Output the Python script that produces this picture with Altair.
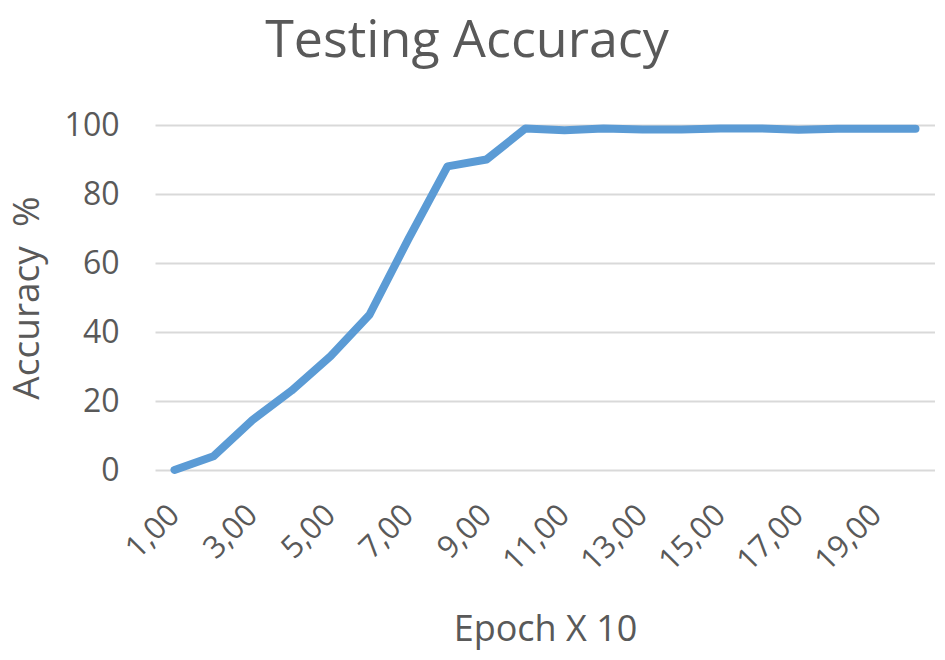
import altair as alt
import pandas as pd

epochs = list(range(1, 21))
accuracy = [0, 4, 14.5, 23, 33, 45, 67, 88, 90, 99, 98.5, 99, 98.7, 98.7, 99, 99, 98.6, 98.9, 98.9, 98.9]
x_tick_values = [1, 3, 5, 7, 9, 11, 13, 15, 17, 19]
y_tick_values = [0, 20, 40, 60, 80, 100]

df = pd.DataFrame({"epoch": epochs, "accuracy": accuracy})

FONT = "Open Sans"
TXT = "#595959"

chart = alt.Chart(df).mark_line(
    color="#5B9BD5", strokeWidth=8, strokeCap="round", strokeJoin="round"
).encode(
    x=alt.X("epoch:Q",
            scale=alt.Scale(domain=[0.5, 20.5], nice=False, zero=False),
            axis=alt.Axis(values=x_tick_values, grid=False, ticks=False, domain=False,
                          labelAngle=-45, labelAlign="right", labelBaseline="middle",
                          labelExpr="replace(format(datum.value, '.2f'), '.', ',')",
                          labelFontSize=31, labelColor=TXT, labelFont=FONT, labelPadding=40,
                          title="Epoch X 10", titleFontSize=36, titleColor=TXT, titleFont=FONT,
                          titleFontWeight="normal", titlePadding=36)),
    y=alt.Y("accuracy:Q",
            scale=alt.Scale(domain=[0, 100], nice=False),
            axis=alt.Axis(values=y_tick_values, grid=True, gridColor="#d9d9d9", gridWidth=2,
                          ticks=False, domain=False,
                          labelFontSize=32, labelColor=TXT, labelFont=FONT, labelPadding=36,
                          title="Accuracy\u00a0\u00a0%", titleFontSize=37, titleColor=TXT, titleFont=FONT,
                          titleFontWeight="normal", titlePadding=18)),
).properties(
    width=780, height=345,
    autosize=alt.AutoSizeParams(type="none"),
    padding={"left": 147, "top": 117, "right": 0, "bottom": 180},
    title=alt.TitleParams("Testing Accuracy", fontSize=52, color=TXT, font=FONT,
                          fontWeight="normal", anchor="middle", dx=-78, offset=41),
).configure_view(stroke=None)

chart.save("out.html", embed_options={"renderer": "svg", "actions": False})
